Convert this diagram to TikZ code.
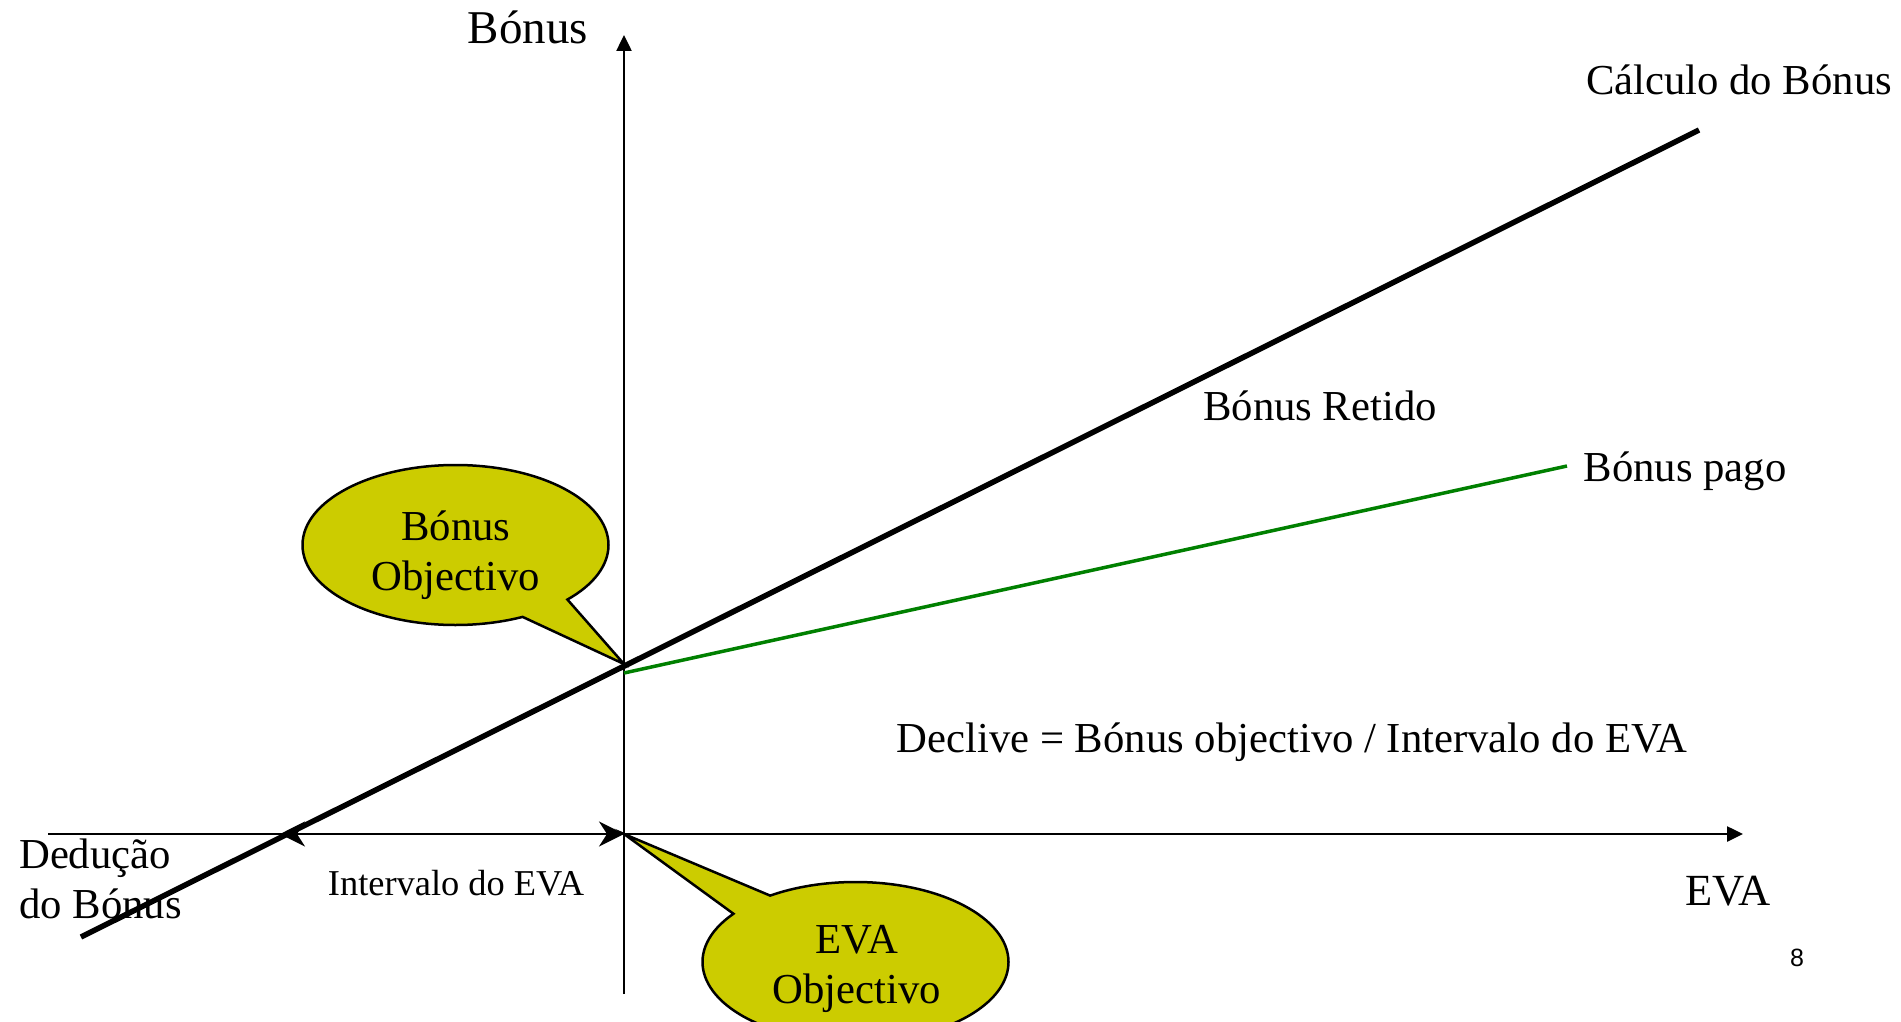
\documentclass[tikz,border=0pt]{standalone}
\usepackage{fontspec}
\setmainfont{Liberation Serif}
\newfontfamily\pagenumfont{Liberation Sans}
\usetikzlibrary{arrows.meta,shapes.callouts}
\definecolor{bubbleyellow}{HTML}{CCCC00}
\definecolor{paidgreen}{HTML}{008000}
\begin{document}
\begin{tikzpicture}[x=1pt,y=-1pt,
  txt/.style={font=\fontsize{42.7}{50}\selectfont, inner sep=0pt, anchor=base},
  smalltxt/.style={font=\fontsize{36.4}{43}\selectfont, inner sep=0pt, anchor=base},
  axisline/.style={line width=2.5pt, -{Triangle[length=16pt,width=15pt]}},
  bubble/.style={ellipse callout, draw=black, fill=bubbleyellow, line width=2.5pt,
    minimum width=306pt, minimum height=160pt, inner sep=0pt},
  calcline/.style={line width=5.5pt, line cap=butt},
  paidline/.style={line width=3.5pt, draw=paidgreen},
  evaspan/.style={line width=2.5pt,
    {Stealth[length=25pt,width=25pt,inset=8pt]}-{Stealth[length=25pt,width=25pt,inset=8pt]}}
]
\useasboundingbox (0,0) rectangle (1901,1022);
\clip (0,0) rectangle (1901,1022);
\fill[white] (0,0) rectangle (1901,1022);

% coordinates
\coordinate (O) at (624,834);
\coordinate (xs) at (48,834);
\coordinate (xe) at (1743,834);
\coordinate (ys) at (624,994);
\coordinate (ye) at (624,35);
\coordinate (cs) at (81,937);
\coordinate (ce) at (1699,130);
\coordinate (gs) at (624,673);
\coordinate (ge) at (1567,466);
\coordinate (ded) at (280,834);

% axes
\draw[axisline] (xs) -- (xe);
\draw[axisline] (ys) -- (ye);

% callouts
\node[bubble, callout absolute pointer={(624,664)}, callout pointer arc=21] (bobj) at (455.5,545) {};
\node[bubble, callout absolute pointer={(624,834)}, callout pointer arc=19] (eobj) at (855.5,962) {};

% lines
\draw[calcline] (cs) -- (ce);
\draw[paidline] (gs) -- (ge);
\draw[evaspan] (ded) -- (O);

% texts
\node[txt, font=\fontsize{47}{56}\selectfont] (ylab) at (528,44) {Bónus};
\node[txt, font=\fontsize{44.5}{52}\selectfont] (xlab) at (1728,905) {EVA};
\node[txt] (calctxt) at (1739,95) {Cálculo do Bónus};
\node[txt] (rettxt) at (1320,420) {Bónus Retido};
\node[txt] (paidtxt) at (1685,481) {Bónus pago};
\node[txt] (decl) at (1292,752) {Declive = Bónus objectivo / Intervalo do EVA};
\node[txt, anchor=base west] (ded1) at (19,868) {Dedução};
\node[txt, anchor=base west] (ded2) at (19,918) {do Bónus};
\node[smalltxt] (ivl) at (456,895) {Intervalo do EVA};
\node[txt] (b1) at (456,540) {Bónus};
\node[txt] (b2) at (456,590) {Objectivo};
\node[txt] (e1) at (857,953) {EVA};
\node[txt] (e2) at (857,1003) {Objectivo};
\node[inner sep=0pt, anchor=base, font=\pagenumfont\fontsize{25}{30}\selectfont] (pnum) at (1797,966) {8};
\end{tikzpicture}
\end{document}
